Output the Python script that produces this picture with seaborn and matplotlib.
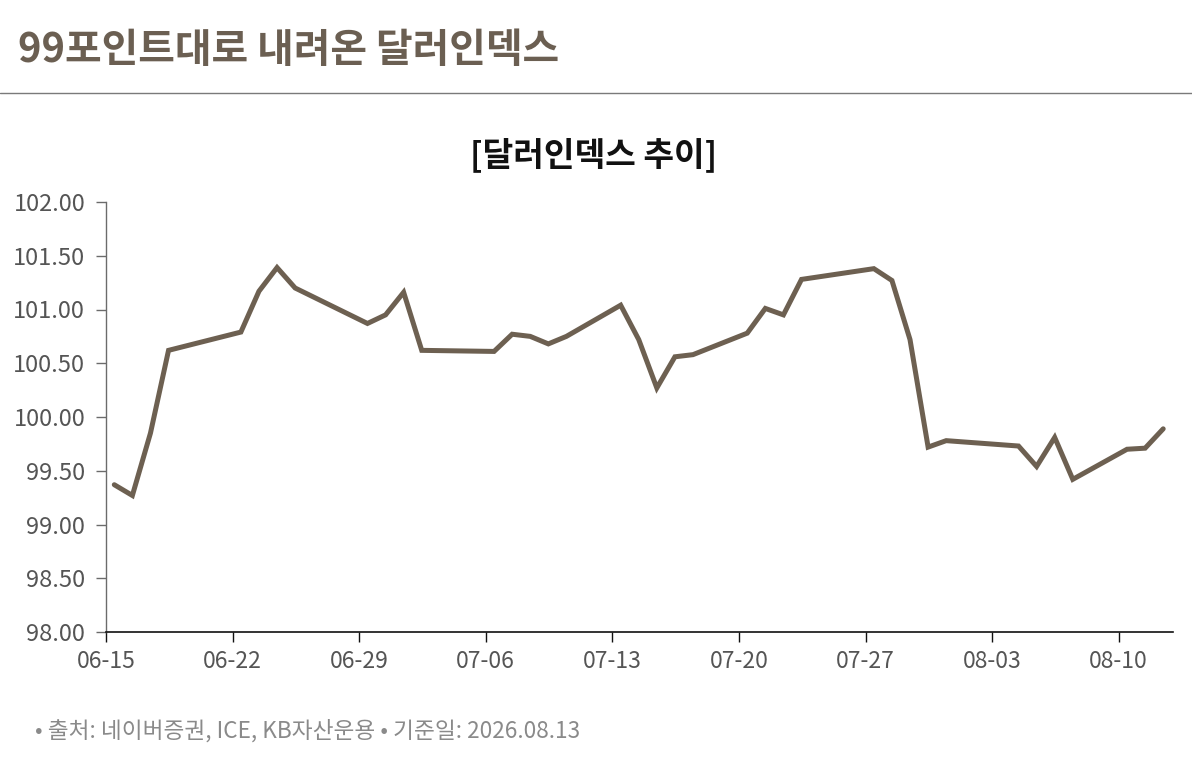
import matplotlib
matplotlib.use("Agg")
import matplotlib.pyplot as plt
import matplotlib.dates as mdates
from matplotlib.lines import Line2D
from matplotlib.ticker import MultipleLocator, FormatStrFormatter
import seaborn as sns
import pandas as pd

dates = ["2026-06-15", "2026-06-16", "2026-06-17", "2026-06-18",
         "2026-06-22", "2026-06-23", "2026-06-24", "2026-06-25",
         "2026-06-29", "2026-06-30", "2026-07-01", "2026-07-02",
         "2026-07-06", "2026-07-07", "2026-07-08", "2026-07-09", "2026-07-10",
         "2026-07-13", "2026-07-14", "2026-07-15", "2026-07-16", "2026-07-17",
         "2026-07-20", "2026-07-21", "2026-07-22", "2026-07-23",
         "2026-07-27", "2026-07-28", "2026-07-29", "2026-07-30", "2026-07-31",
         "2026-08-04", "2026-08-05", "2026-08-06", "2026-08-07",
         "2026-08-10", "2026-08-11", "2026-08-12"]
dxy = [99.37, 99.27, 99.85, 100.62,
       100.79, 101.17, 101.39, 101.20,
       100.87, 100.95, 101.16, 100.62,
       100.61, 100.77, 100.75, 100.68, 100.75,
       101.04, 100.72, 100.27, 100.56, 100.58,
       100.78, 101.01, 100.95, 101.28,
       101.38, 101.27, 100.72, 99.72, 99.78,
       99.73, 99.54, 99.81, 99.42,
       99.70, 99.71, 99.89]
tick_dates = ["2026-06-15", "2026-06-22", "2026-06-29", "2026-07-06", "2026-07-13",
              "2026-07-20", "2026-07-27", "2026-08-03", "2026-08-10"]

title_text = "99포인트대로 내려온 달러인덱스"
subtitle_text = "[달러인덱스 추이]"
footer_text = "• 출처: 네이버증권, ICE, KB자산운용 • 기준일: 2026.08.13"

sns.set_style("white")
plt.rcParams['font.family'] = ['Noto Sans CJK KR', 'DejaVu Sans']

line_color = "#6d6051"

df = pd.DataFrame({"date": pd.to_datetime(dates) + pd.Timedelta(hours=11), "value": dxy})

fig = plt.figure(figsize=(11.92, 7.75), dpi=100)
ax = fig.add_axes([106/1192, 1-632/775, (1173-106)/1192, (632-202)/775])

sns.lineplot(data=df, x="date", y="value", ax=ax, color=line_color, linewidth=3.6,
             solid_joinstyle="miter")

ax.set_ylim(98, 102)
ax.yaxis.set_major_locator(MultipleLocator(0.5))
ax.yaxis.set_major_formatter(FormatStrFormatter("%.2f"))
ax.set_xlim(pd.Timestamp("2026-06-15"), pd.Timestamp("2026-08-13"))
ax.set_xticks(pd.to_datetime(tick_dates))
ax.xaxis.set_major_formatter(mdates.DateFormatter("%m-%d"))
ax.set_xlabel("")
ax.set_ylabel("")

for s in ["top", "right"]:
    ax.spines[s].set_visible(False)
ax.spines["left"].set_color("#6b6b6b")
ax.spines["left"].set_linewidth(1.0)
ax.spines["bottom"].set_color("#111111")
ax.spines["bottom"].set_linewidth(1.2)

ax.tick_params(axis="y", which="major", direction="out", length=7, width=1,
               color="#6b6b6b", labelsize=17, labelcolor="#555555", pad=8, left=True)
ax.tick_params(axis="x", which="major", direction="out", length=7, width=1,
               color="#111111", labelsize=16.5, labelcolor="#555555", pad=6, bottom=True)

fig.text(18/1192, 1-51/775, title_text, fontsize=28.7, fontweight="bold",
         color="#6b5f52", ha="left", va="center")
fig.add_artist(Line2D([0, 1], [1-93/775, 1-93/775], color="#7a7a7a", linewidth=1.0))
fig.text(594/1192, 1-155/775, subtitle_text, fontsize=24, color="#111111",
         ha="center", va="center", fontweight="bold")
fig.text(35/1192, 1-731/775, footer_text, fontsize=16.3, color="#8a8a8a",
         ha="left", va="center")

fig.savefig("out.png", dpi=100)
